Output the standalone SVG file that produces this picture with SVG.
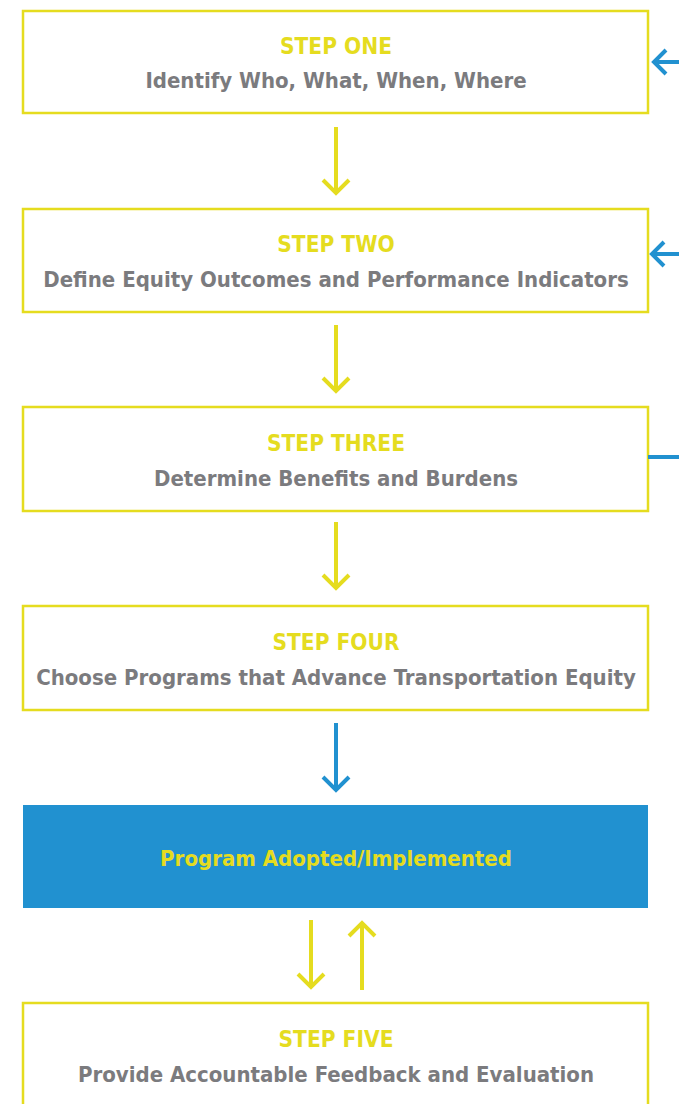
<svg xmlns="http://www.w3.org/2000/svg" width="679" height="1104" viewBox="0 0 679 1104">
<style>
.box{fill:#fff;stroke:#e5dc1f;stroke-width:2.5}
.t{font-family:"DejaVu Sans Condensed","DejaVu Sans",sans-serif;font-weight:bold;font-size:22px;text-anchor:middle}
.h{fill:#e5dc1f;font-size:22.5px}
.s{fill:#7b7b7e}
.ya{stroke:#e5dc1f;stroke-width:4;fill:none}
.ba{stroke:#2191d0;stroke-width:4;fill:none}
</style>
<rect width="679" height="1104" fill="#fff"/>
<g id="step1"><rect class="box" x="23" y="11" width="625" height="102"/><text class="t h" x="336" y="54">STEP ONE</text><text class="t s" x="336" y="88">Identify Who, What, When, Where</text></g>
<g id="step2"><rect class="box" x="23" y="209" width="625" height="103"/><text class="t h" x="336" y="252">STEP TWO</text><text class="t s" x="336" y="287">Define Equity Outcomes and Performance Indicators</text></g>
<g id="step3"><rect class="box" x="23" y="407" width="625" height="104"/><text class="t h" x="336" y="451">STEP THREE</text><text class="t s" x="336" y="486">Determine Benefits and Burdens</text></g>
<g id="step4"><rect class="box" x="23" y="606" width="625" height="104"/><text class="t h" x="336" y="650">STEP FOUR</text><text class="t s" x="336" y="685">Choose Programs that Advance Transportation Equity</text></g>
<g id="adopted"><rect x="23" y="805" width="625" height="103" fill="#2191d0"/><text class="t h" x="336" y="866" style="font-size:22px">Program Adopted/Implemented</text></g>
<g id="step5"><rect class="box" x="23" y="1003" width="625" height="110"/><text class="t h" x="336" y="1047">STEP FIVE</text><text class="t s" x="336" y="1082">Provide Accountable Feedback and Evaluation</text></g>
<g id="connectors">
<path class="ya" d="M336 127V193M323 180L336 193L349 180"/>
<path class="ya" d="M336 325V391M323 378L336 391L349 378"/>
<path class="ya" d="M336 522V588M323 575L336 588L349 575"/>
<path class="ba" d="M336 723V790M323 777L336 790L349 777"/>
<path class="ya" d="M311 920V987M298 974L311 987L324 974"/>
<path class="ya" d="M362 990V923M349 936L362 923L375 936"/>
<path class="ba" d="M679 62H654M666 50L654 62L666 74"/>
<path class="ba" d="M679 254H652M664 242L652 254L664 266"/>
<path class="ba" d="M648 457H679"/>
</g>
</svg>
